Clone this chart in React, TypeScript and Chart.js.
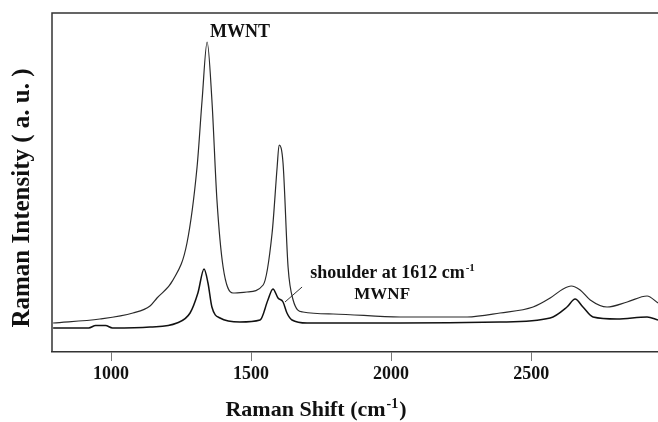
import React, { useEffect, useRef } from "react";
import { Chart, registerables } from "chart.js";

Chart.register(...registerables);

// MWNT spectrum (upper trace)
const MWNT_SHIFT = [793, 960, 1078, 1139, 1164, 1221, 1271, 1307, 1325, 1343, 1360, 1378, 1400, 1435, 1485, 1543, 1575, 1593, 1600, 1614, 1632, 1650, 1685, 1793, 2032, 2271, 2389, 2507, 2568, 2614, 2643, 2675, 2711, 2771, 2843, 2914, 2953];
const MWNT_INTENSITY = [29, 33, 39, 46, 54, 72, 109, 185, 252, 310, 252, 152, 85, 59, 60, 67, 119, 185, 207, 189, 85, 52, 40, 38, 35, 35, 39, 45, 54, 63, 66, 62, 52, 45, 50, 56, 49];

// MWNF spectrum (lower trace)
const MWNF_SHIFT = [793, 920, 945, 980, 1005, 1139, 1235, 1282, 1310, 1332, 1346, 1360, 1389, 1460, 1532, 1560, 1578, 1596, 1614, 1628, 1646, 1700, 2032, 2389, 2568, 2628, 2657, 2685, 2721, 2807, 2914, 2953];
const MWNF_INTENSITY = [24, 24, 26.5, 26.5, 24, 25, 29, 39, 59, 83, 69, 45, 34, 30, 32, 52, 63, 54, 50, 39, 32, 29, 29, 30, 34, 45, 53, 45, 35, 33, 35, 32];

const X_TICKS = [1000, 1500, 2000, 2500];
const X_MIN = 789;
const X_MAX = 2953;
const Y_MIN = 0;
const Y_MAX = 339;

const SERIF = '"Liberation Serif", "Times New Roman", serif';

const annotationPlugin = {
  id: "annot",
  afterDraw(chart: any) {
    const { ctx, chartArea, scales } = chart;
    const xs = scales.x;
    const ys = scales.y;
    ctx.save();
    // frame top + left
    ctx.strokeStyle = "#333";
    ctx.lineWidth = 1.5;
    ctx.beginPath();
    ctx.moveTo(chartArea.left, chartArea.bottom);
    ctx.lineTo(chartArea.left, chartArea.top);
    ctx.lineTo(chartArea.right, chartArea.top);
    ctx.stroke();

    ctx.fillStyle = "#111";
    ctx.textAlign = "center";
    ctx.textBaseline = "middle";
    ctx.font = `bold 18px ${SERIF}`;
    ctx.fillText("MWNT", xs.getPixelForValue(1460), ys.getPixelForValue(320));
    // shoulder label with superscript
    const main = "shoulder at 1612 cm";
    const sup = "-1";
    const cx = xs.getPixelForValue(2003);
    const cy = ys.getPixelForValue(79);
    ctx.font = `bold 18px ${SERIF}`;
    const wMain = ctx.measureText(main).width;
    ctx.font = `bold 11px ${SERIF}`;
    const wSup = ctx.measureText(sup).width;
    const startX = cx - (wMain + wSup) / 2;
    ctx.textAlign = "left";
    ctx.font = `bold 18px ${SERIF}`;
    ctx.fillText(main, startX, cy);
    ctx.font = `bold 11px ${SERIF}`;
    ctx.fillText(sup, startX + wMain + 1, cy - 5);
    ctx.textAlign = "center";
    ctx.font = `bold 17px ${SERIF}`;
    ctx.fillText("MWNF", xs.getPixelForValue(1968), ys.getPixelForValue(57));

    // pointer line
    ctx.strokeStyle = "#333";
    ctx.lineWidth = 1;
    ctx.beginPath();
    ctx.moveTo(xs.getPixelForValue(1682), ys.getPixelForValue(65));
    ctx.lineTo(xs.getPixelForValue(1621), ys.getPixelForValue(50));
    ctx.stroke();

    // x title
    const big = 22;
    ctx.font = `bold ${big}px ${SERIF}`;
    const t1 = "Raman Shift (cm";
    const t2 = "-1";
    const t3 = ")";
    const w1 = ctx.measureText(t1).width;
    const w3 = ctx.measureText(t3).width;
    ctx.font = `bold 14px ${SERIF}`;
    const w2 = ctx.measureText(t2).width;
    const tx = 315 - (w1 + w2 + w3) / 2;
    const ty = 410;
    ctx.textAlign = "left";
    ctx.font = `bold ${big}px ${SERIF}`;
    ctx.fillText(t1, tx, ty);
    ctx.font = `bold 14px ${SERIF}`;
    ctx.fillText(t2, tx + w1 + 1, ty - 6);
    ctx.font = `bold ${big}px ${SERIF}`;
    ctx.fillText(t3, tx + w1 + w2 + 2, ty);

    // y title
    ctx.translate(23, 198);
    ctx.rotate(-Math.PI / 2);
    ctx.textAlign = "center";
    ctx.font = `bold 25px ${SERIF}`;
    ctx.fillText("Raman Intensity ( a. u. )", 0, 0);
    ctx.restore();
  },
};

export default function App() {
  const ref = useRef<HTMLCanvasElement | null>(null);
  useEffect(() => {
    document.body.style.margin = "0";
    const canvas = ref.current!;
    const chart = new Chart(canvas, {
      type: "line",
      data: {
        datasets: [
          {
            label: "MWNT",
            data: MWNT_SHIFT.map((x, i) => ({ x, y: MWNT_INTENSITY[i] })),
            borderColor: "#2a2a2a",
            borderWidth: 1.2,
            pointRadius: 0,
            cubicInterpolationMode: "monotone",
            fill: false,
          },
          {
            label: "MWNF",
            data: MWNF_SHIFT.map((x, i) => ({ x, y: MWNF_INTENSITY[i] })),
            borderColor: "#111",
            borderWidth: 1.5,
            pointRadius: 0,
            cubicInterpolationMode: "monotone",
            fill: false,
          },
        ],
      },
      options: {
        animation: false,
        responsive: false,
        devicePixelRatio: 1,
        layout: { padding: { left: 52, top: 13, right: 0, bottom: 0 } },
        plugins: { legend: { display: false }, tooltip: { enabled: false } },
        scales: {
          x: {
            type: "linear",
            min: X_MIN,
            max: X_MAX,
            afterBuildTicks: (s: any) => {
              s.ticks = X_TICKS.map((v) => ({ value: v }));
            },
            afterFit: (s: any) => {
              s.height = 70;
            },
            grid: {
              drawOnChartArea: false,
              drawTicks: true,
              tickLength: 9,
              color: "#777",
            },
            border: { display: true, color: "#333", width: 1.5 },
            ticks: {
              color: "#111",
              font: { family: SERIF, size: 18, weight: "bold" },
              padding: 3,
              maxRotation: 0,
              callback: (v: any) => String(v),
            },
          },
          y: {
            type: "linear",
            display: false,
            min: Y_MIN,
            max: Y_MAX,
          },
        },
      },
      plugins: [annotationPlugin],
    } as any);
    return () => chart.destroy();
  }, []);
  return <canvas ref={ref} width={658} height={422} style={{ display: "block" }} />;
}
